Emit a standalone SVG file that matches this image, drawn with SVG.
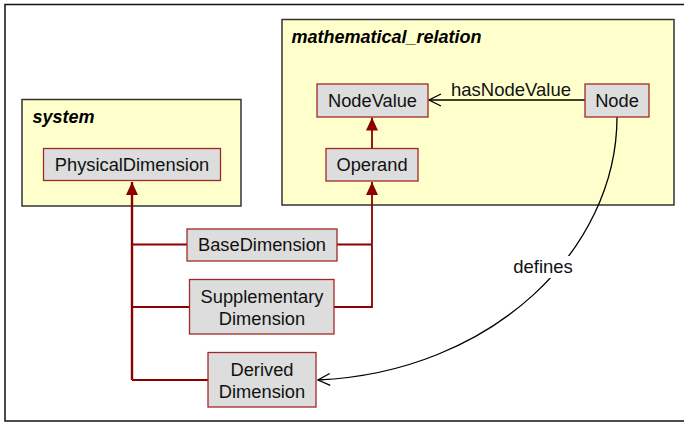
<svg xmlns="http://www.w3.org/2000/svg" width="684" height="422" viewBox="0 0 684 422">
<defs>
<style>
.pkg{fill:#FFFFCC;stroke:#333333;stroke-width:1.5}
.ptitle{font-family:"Liberation Sans",Arial,sans-serif;font-size:18px;font-weight:bold;font-style:italic;fill:#000}
.node{fill:#DDDDDD;stroke:#A02828;stroke-width:1.3}
.lbl{font-family:"Liberation Sans",Arial,sans-serif;font-size:18.3px;fill:#111;text-anchor:middle}
.gen{fill:none;stroke:#8B0000;stroke-width:1.8}
.gen2{fill:none;stroke:#8B0000;stroke-width:2.4}
.assoc{fill:none;stroke:#000;stroke-width:1.3}
.elbl{font-family:"Liberation Sans",Arial,sans-serif;font-size:18.5px;fill:#111;text-anchor:middle}
</style>
<marker id="tri" viewBox="0 0 13 12" refX="13" refY="6" markerWidth="13" markerHeight="12" markerUnits="userSpaceOnUse" orient="auto">
<path d="M0,0 L13,6 L0,12 Z" fill="#8B0000"/>
</marker>
<marker id="open" viewBox="0 0 14 14" refX="13" refY="7" markerWidth="14" markerHeight="14" markerUnits="userSpaceOnUse" orient="auto">
<path d="M1,1 L13,7 L1,13" fill="none" stroke="#000" stroke-width="1.3"/>
</marker>
</defs>
<rect x="0" y="0" width="684" height="422" fill="#fff"/>
<rect x="5" y="4.5" width="690" height="416.5" fill="#fff" stroke="#111" stroke-width="1.5"/>

<g id="pkg-system">
<rect class="pkg" x="22" y="99.5" width="219" height="106.5"/>
<text class="ptitle" x="32.5" y="123">system</text>
</g>
<g id="pkg-mathematical_relation">
<rect class="pkg" x="282" y="19.5" width="392" height="185.5"/>
<text class="ptitle" x="291.5" y="43">mathematical_relation</text>
</g>

<g id="connectors">
<path class="gen2" d="M132,380 L132,182" marker-end="url(#tri)"/>
<path class="gen" d="M187,244.5 L132,244.5"/>
<path class="gen" d="M189,307 L132,307"/>
<path class="gen" d="M208,380 L132,380"/>
<path class="gen" d="M337,244.5 L372,244.5 M334,307 L372,307 L372,244.5"/>
<path class="gen" d="M372,244.5 L372,182" marker-end="url(#tri)"/>
<path class="gen" d="M372,148 L372,117.5" marker-end="url(#tri)"/>
<path class="assoc" d="M585,100 L429,100" marker-end="url(#open)"/>
<text class="elbl" x="511" y="96">hasNodeValue</text>
<path class="assoc" d="M617,117 C617,250 492,372 318,380" marker-end="url(#open)"/>
<rect x="510" y="256" width="68" height="22" fill="#fff"/>
<text class="elbl" x="543" y="273">defines</text>
</g>

<g id="node-PhysicalDimension">
<rect class="node" x="43.5" y="148.5" width="177" height="32"/>
<text class="lbl" x="132" y="171">PhysicalDimension</text>
</g>
<g id="node-NodeValue">
<rect class="node" x="317" y="84" width="111" height="33"/>
<text class="lbl" x="372.5" y="107">NodeValue</text>
</g>
<g id="node-Node">
<rect class="node" x="585" y="84" width="64" height="33"/>
<text class="lbl" x="617" y="107">Node</text>
</g>
<g id="node-Operand">
<rect class="node" x="326" y="148.5" width="92" height="32.5"/>
<text class="lbl" x="372" y="171">Operand</text>
</g>
<g id="node-BaseDimension">
<rect class="node" x="187" y="229" width="150" height="32"/>
<text class="lbl" x="262" y="251">BaseDimension</text>
</g>
<g id="node-SupplementaryDimension">
<rect class="node" x="189.5" y="279.5" width="144.5" height="54.5"/>
<text class="lbl" x="262" y="303">Supplementary</text>
<text class="lbl" x="262" y="325">Dimension</text>
</g>
<g id="node-DerivedDimension">
<rect class="node" x="208" y="352.5" width="108" height="54.5"/>
<text class="lbl" x="262" y="376">Derived</text>
<text class="lbl" x="262" y="398">Dimension</text>
</g>
</svg>
